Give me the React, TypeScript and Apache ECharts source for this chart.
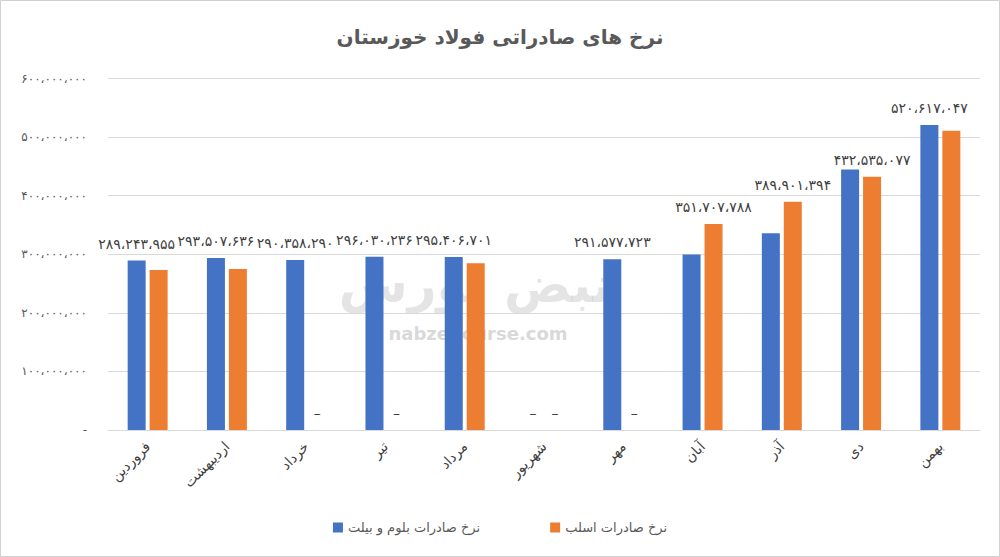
import React, { useEffect, useRef } from "react";
import * as echarts from "echarts";

const categories = ["فروردین", "اردیبهشت", "خرداد", "تیر", "مرداد", "شهریور", "مهر", "آبان", "آذر", "دی", "بهمن"];
const bloomValues = [289243955, 293507636, 290358290, 296030236, 295406701, 0, 291577723, 299600000, 336000000, 445000000, 520617047];
const slabValues = [273000000, 275000000, 0, 0, 284600000, 0, 0, 351707788, 389901394, 432535077, 510800000];
const bloomLabelIdx = [0, 1, 2, 3, 4, 5, 6, 10];
const slabLabelIdx = [2, 3, 5, 6, 7, 8, 9];
const seriesNames = ["نرخ صادرات بلوم و بیلت", "نرخ صادرات اسلب"];
const titleText = "نرخ های صادراتی فولاد خوزستان";
const yTicks = { min: 0, max: 600000000, interval: 100000000 };

const FA = "۰۱۲۳۴۵۶۷۸۹";
function toFa(n: number): string {
  return Math.round(n)
    .toString()
    .replace(/\B(?=(\d{3})+(?!\d))/g, "،")
    .replace(/\d/g, (d) => FA[Number(d)]);
}

const FONT = "DejaVu Sans";

function buildData(values: number[], labelIdx: number[]) {
  return values.map((v, i) => ({
    value: v,
    label: {
      show: labelIdx.includes(i),
      position: "top" as const,
      distance: 10,
      fontSize: 14,
      fontFamily: FONT,
      color: "#404040",
      formatter: () => (v === 0 ? "–" : toFa(v)),
    },
  }));
}

export default function App() {
  const ref = useRef<HTMLDivElement>(null);
  useEffect(() => {
    if (!ref.current) return;
    const chart = echarts.init(ref.current, undefined, { renderer: "svg" });
    chart.setOption({
      animation: false,
      backgroundColor: "#ffffff",
      title: {
        text: titleText,
        left: "center",
        top: 22,
        textStyle: { fontFamily: FONT, fontSize: 20, fontWeight: "bold", color: "#595959" },
      },
      legend: {
        bottom: 18,
        left: "center",
        icon: "rect",
        itemWidth: 10,
        itemHeight: 10,
        itemGap: 70,
        textStyle: { fontFamily: FONT, fontSize: 13, color: "#595959" },
        data: seriesNames,
      },
      grid: { left: 108, right: 20, top: 78.6, bottom: 127, containLabel: false },
      graphic: [
        {
          type: "rect",
          shape: { x: 0.5, y: 0.5, width: 999, height: 556 },
          style: { fill: "none", stroke: "#d0d0d0", lineWidth: 1 },
          silent: true,
        },
        {
          type: "text",
          x: 475,
          y: 285,
          z: -1,
          style: {
            text: "نبض بورس",
            fontFamily: FONT,
            fontSize: 50,
            fontWeight: "bold",
            fill: "rgba(205,205,205,0.55)",
            align: "center",
            verticalAlign: "middle",
          },
          silent: true,
        },
        {
          type: "text",
          x: 478,
          y: 333,
          z: -1,
          style: {
            text: "nabzebourse.com",
            fontFamily: FONT,
            fontSize: 18,
            fontWeight: "bold",
            fill: "rgba(200,200,200,0.7)",
            align: "center",
            verticalAlign: "middle",
          },
          silent: true,
        },
      ],
      xAxis: {
        type: "category",
        data: categories,
        axisTick: { show: false },
        axisLine: { show: true, lineStyle: { color: "#d9d9d9", width: 1 } },
        axisLabel: {
          rotate: 45,
          interval: 0,
          margin: 14,
          fontFamily: FONT,
          fontSize: 14,
          color: "#404040",
        },
      },
      yAxis: {
        type: "value",
        min: yTicks.min,
        max: yTicks.max,
        interval: yTicks.interval,
        axisLine: { show: false },
        axisTick: { show: false },
        splitLine: { lineStyle: { color: "#d9d9d9", width: 1 } },
        axisLabel: {
          margin: 21,
          fontFamily: FONT,
          fontSize: 12,
          color: "#595959",
          formatter: (v: number) => (v === 0 ? "-" : toFa(v)),
        },
      },
      series: [
        {
          name: seriesNames[0],
          type: "bar",
          barWidth: 18,
          barGap: "22%",
          itemStyle: { color: "#4472c4" },
          data: buildData(bloomValues, bloomLabelIdx),
        },
        {
          name: seriesNames[1],
          type: "bar",
          barWidth: 18,
          barGap: "22%",
          itemStyle: { color: "#ed7d31" },
          data: buildData(slabValues, slabLabelIdx),
        },
      ],
    });
    return () => chart.dispose();
  }, []);
  return (
    <div
      ref={ref}
      style={{ position: "absolute", left: 0, top: 0, width: 1000, height: 557 }}
    />
  );
}
